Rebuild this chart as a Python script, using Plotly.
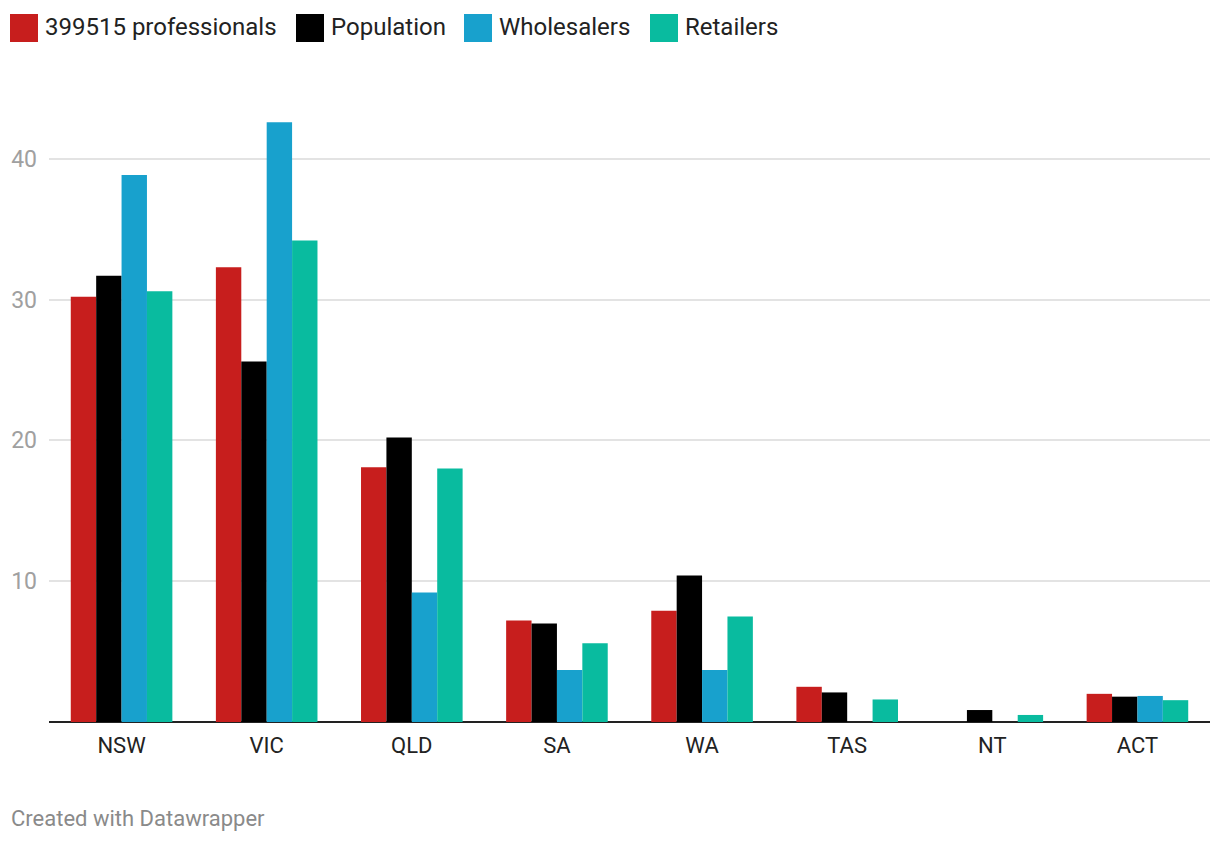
import plotly.graph_objects as go

categories = ["NSW", "VIC", "QLD", "SA", "WA", "TAS", "NT", "ACT"]
series_names = ["399515 professionals", "Population", "Wholesalers", "Retailers"]
professionals = [30.2, 32.3, 18.1, 7.2, 7.9, 2.5, None, 2.0]
population = [31.7, 25.6, 20.2, 7.0, 10.4, 2.1, 0.85, 1.8]
wholesalers = [38.85, 42.6, 9.2, 3.7, 3.7, None, None, 1.85]
retailers = [30.6, 34.2, 18.0, 5.6, 7.5, 1.6, 0.5, 1.55]
colors = ["#c71e1d", "#000000", "#18a1cd", "#09bb9f"]
y_ticks = [10, 20, 30, 40]

# page has an 8px body margin; work in page pixel coordinates
OFF = 8
W, H = 1220 - OFF, 844 - OFF
L, R, T, B = 49 - OFF, 10, 100 - OFF, 122
pw, ph = W - L - R, H - T - B


def px2x(px):
    return (px - OFF - L) / pw


def py2y(py):
    return (OFF + H - B - py) / ph


fig = go.Figure()
for name, vals, c in zip(series_names, [professionals, population, wholesalers, retailers], colors):
    fig.add_trace(go.Bar(x=categories, y=vals, name=name,
                         marker=dict(color=c, line=dict(width=0)), showlegend=False))

# manual legend (Datawrapper style)
shapes = []
annotations = []
legend_x = [10, 296, 464, 650]
for name, c, lx in zip(series_names, colors, legend_x):
    shapes.append(dict(type="rect", xref="paper", yref="paper",
                       x0=px2x(lx), x1=px2x(lx + 28), y0=py2y(42), y1=py2y(14),
                       fillcolor=c, line=dict(width=0)))
    annotations.append(dict(text=name, xref="paper", yref="paper", x=px2x(lx + 33), y=py2y(27),
                            xanchor="left", yanchor="middle", showarrow=False,
                            font=dict(family="Roboto", size=24, color="#222222")))

annotations.append(dict(text="Created with Datawrapper", xref="paper", yref="paper",
                        x=px2x(9), y=py2y(818), xanchor="left", yanchor="middle", showarrow=False,
                        font=dict(family="Roboto", size=22, color="#8a8a8a")))

fig.update_layout(
    width=W, height=H,
    margin=dict(l=L, r=R, t=T, b=B, autoexpand=False),
    paper_bgcolor="white", plot_bgcolor="white",
    barmode="group", bargap=0.3, bargroupgap=0,
    font=dict(family="Roboto"),
    shapes=shapes, annotations=annotations,
    xaxis=dict(showgrid=False, showline=False, ticks="", automargin=False,
               tickfont=dict(size=22, color="#222222"), ticklabelstandoff=8),
    yaxis=dict(range=[0, ph / 14.08], tickvals=y_ticks, showgrid=True, automargin=False,
               gridcolor="#e3e3e3", gridwidth=1.5,
               zeroline=True, zerolinecolor="#222222", zerolinewidth=2,
               tickfont=dict(size=23, color="#a0a0a0"), ticklabelstandoff=11,
               showline=False, ticks=""),
)

fig.write_html("out.html")
